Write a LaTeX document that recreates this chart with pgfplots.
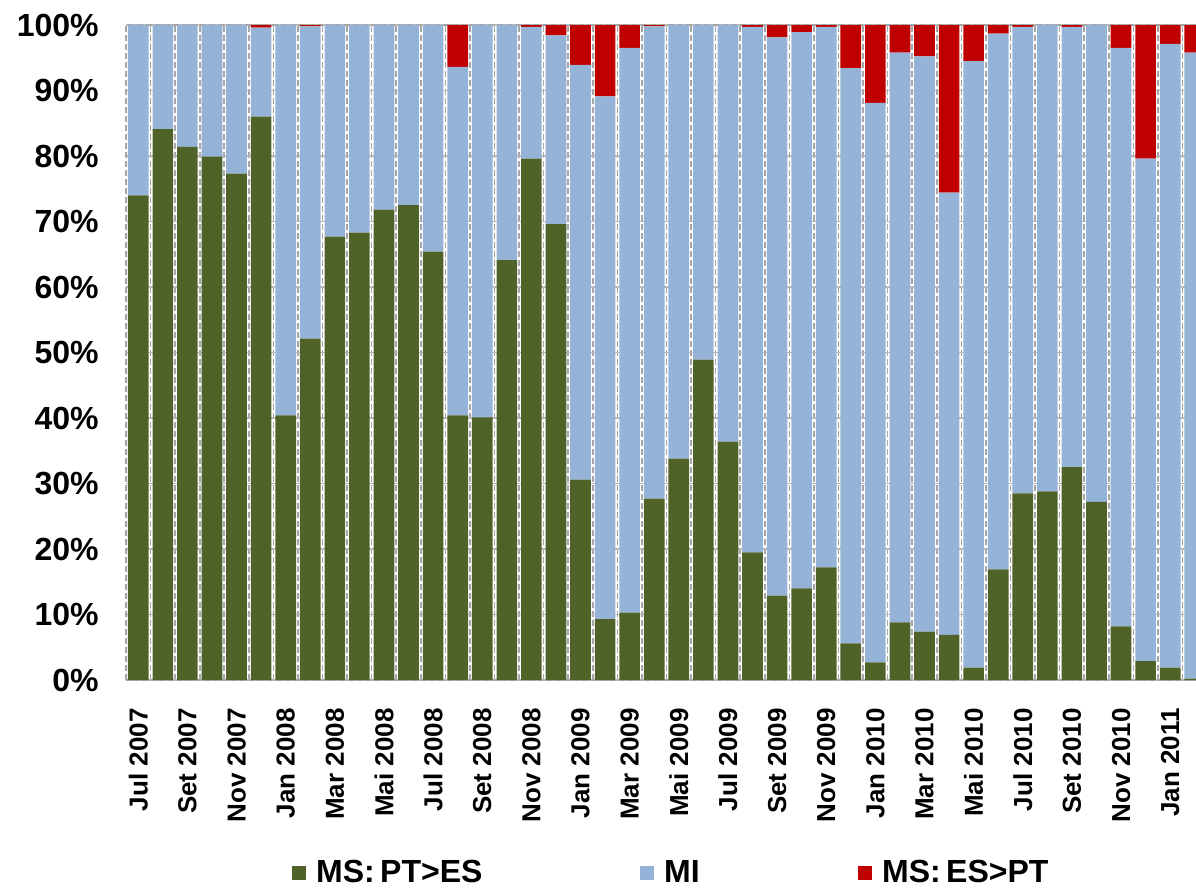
\documentclass[border=0pt]{standalone}
\usepackage{pgfplots}
\usepackage{pgfplotstable}
\pgfplotsset{compat=1.18}
\usepackage{fontspec}
\setmainfont{Liberation Sans}

\definecolor{cgreen}{HTML}{4F6228}
\definecolor{cblue}{HTML}{95B3D7}
\definecolor{cred}{HTML}{C00000}

% share of each month: green (MS: PT>ES), blue (MI), red (MS: ES>PT)
\pgfplotstableread{
x  g     b     r
0  74.0  26.0  0
1  84.1  15.9  0
2  81.4  18.6  0
3  79.9  20.1  0
4  77.3  22.7  0
5  86.0  13.6  0.4
6  40.4  59.6  0
7  52.1  47.7  0.2
8  67.7  32.3  0
9  68.3  31.7  0
10 71.8  28.2  0
11 72.5  27.5  0
12 65.4  34.6  0
13 40.4  53.2  6.4
14 40.1  59.9  0
15 64.1  35.9  0
16 79.6  20.1  0.3
17 69.6  28.8  1.6
18 30.6  63.3  6.1
19 9.3   79.8  10.9
20 10.3  86.2  3.5
21 27.7  72.1  0.2
22 33.8  66.2  0
23 48.9  51.1  0
24 36.4  63.6  0
25 19.5  80.2  0.3
26 12.9  85.2  1.9
27 14.0  84.9  1.1
28 17.2  82.5  0.3
29 5.6   87.8  6.6
30 2.7   85.4  11.9
31 8.8   87.0  4.2
32 7.4   87.8  4.8
33 6.9   67.5  25.6
34 1.9   92.6  5.5
35 16.9  81.8  1.3
36 28.5  71.2  0.3
37 28.8  71.2  0
38 32.5  67.2  0.3
39 27.2  72.8  0
40 8.2   88.3  3.5
41 2.9   76.7  20.4
42 1.9   95.2  2.9
43 0.2   95.6  4.2
}\data

\begin{document}
\begin{tikzpicture}
\begin{axis}[
    name=ax,
    ybar stacked,
    scale only axis,
    width=535pt, height=327.5pt,
    xmin=-0.5, xmax=43.05,
    ymin=0, ymax=100,
    bar width=0.84,
    xtick={0,2,...,42},
    xticklabels={Jul 2007, Set 2007, Nov 2007, Jan 2008, Mar 2008, Mai 2008,
        Jul 2008, Set 2008, Nov 2008, Jan 2009, Mar 2009, Mai 2009, Jul 2009,
        Set 2009, Nov 2009, Jan 2010, Mar 2010, Mai 2010, Jul 2010, Set 2010,
        Nov 2010, Jan 2011},
    minor xtick={-0.5,0.5,...,43.5},
    ytick={0,10,...,100},
    yticklabels={0\%,10\%,20\%,30\%,40\%,50\%,60\%,70\%,80\%,90\%,100\%},
    major tick length=0pt,
    minor tick length=0pt,
    xticklabel style={rotate=90, anchor=east, inner sep=0pt,
        font=\fontsize{13}{14}\selectfont\bfseries},
    yticklabel style={anchor=east, inner sep=0pt,
        font=\fontsize{16}{18}\selectfont\bfseries},
    xticklabel shift=14pt,
    yticklabel shift=13.5pt,
    ymajorgrids,
    xminorgrids,
    major grid style={gray!55, line width=0.6pt},
    minor grid style={gray!70, line width=0.8pt, dash pattern=on 3pt off 1.5pt},
    axis line style={gray!70, line width=0.8pt, dash pattern=on 3pt off 1.5pt},
    legend columns=3,
    legend style={at={(0.155,-0.2947)}, anchor=west, draw=none, fill=none,
        inner sep=0pt, column sep=0pt,
        font=\fontsize{16}{18}\selectfont\bfseries,
        nodes={inner sep=0pt}},
    legend image code/.code={
        \fill[#1] (0pt,-3.5pt) rectangle (7pt,3.5pt);
        \path (12pt,0pt);
    },
]
\addplot[fill=cgreen, draw=none] table[x=x, y=g] {\data};
\addlegendentry{\makebox[162pt][l]{MS:\,PT>ES}}
\addplot[fill=cblue, draw=none] table[x=x, y=b] {\data};
\addlegendentry{\makebox[97pt][l]{MI}}
\addplot[fill=cred, draw=none] table[x=x, y=r] {\data};
\addlegendentry{MS:\,ES>PT}
\end{axis}
\pgfresetboundingbox
\path (ax.south west) ++(-63pt,-105pt) rectangle ++(598pt,445pt);
\end{tikzpicture}
\end{document}
